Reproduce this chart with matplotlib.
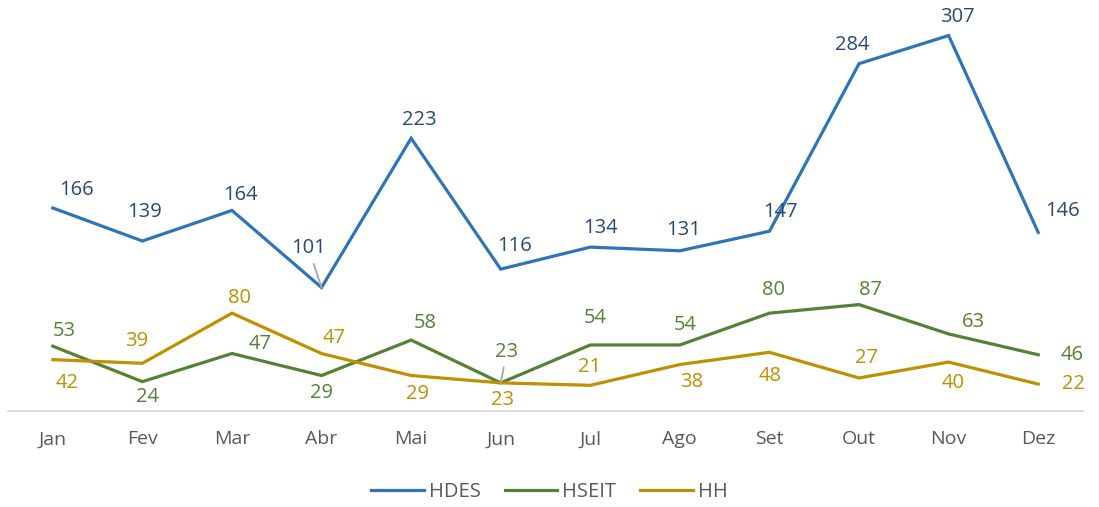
import matplotlib
matplotlib.use("Agg")
import matplotlib.pyplot as plt

months = ["Jan", "Fev", "Mar", "Abr", "Mai", "Jun", "Jul", "Ago", "Set", "Out", "Nov", "Dez"]
hdes = [166, 139, 164, 101, 223, 116, 134, 131, 147, 284, 307, 146]
hseit = [53, 24, 47, 29, 58, 23, 54, 54, 80, 87, 63, 46]
hh = [42, 39, 80, 47, 29, 23, 21, 38, 48, 27, 40, 22]

# label offsets in pixels (dx, dy), positive dy = up
off_hdes = [(24, 18), (2, 29), (9, 15), (-13, 39), (8, 18), (14, 23),
            (10, 19), (4, 21), (11, 19), (-7, 19), (9, 19), (24, 21)]
off_hseit = [(12, 15), (5, -15), (28, 10), (0, -17), (14, 17), (6, 31),
             (5, 27), (5, 20), (4, 23), (11, 15), (25, 12), (34, 0)]
off_hh = [(14, -23), (-6, 22), (8, 15), (13, 16), (6, -18), (2, -17),
          (-1, 18), (12, -17), (1, -24), (7, 20), (5, -21), (35, 0)]
leaders = {("HDES", 3), ("HSEIT", 5)}

plt.rcParams['font.family'] = ['Open Sans', 'DejaVu Sans']

fig = plt.figure(figsize=(10.99, 5.07), dpi=100)
ax = fig.add_axes([8/1099, 96/507, 1075/1099, 403.6/507])

x = list(range(len(months)))
series = [
    ("HDES", hdes, off_hdes, "#2E75B6", "#264B73"),
    ("HSEIT", hseit, off_hseit, "#548235", "#548235"),
    ("HH", hh, off_hh, "#BF9000", "#BF9000"),
]

for name, vals, offs, col, lcol in series:
    ax.plot(x, vals, color=col, lw=2.3, label=name, solid_joinstyle='miter')
for name, vals, offs, col, lcol in series:
    for i, v in enumerate(vals):
        kw = {}
        if (name, i) in leaders:
            kw['arrowprops'] = dict(arrowstyle='-', color='#A6A6A6', lw=1.3, shrinkB=0)
        ax.annotate(str(v), (i, v), xytext=offs[i], textcoords='offset pixels',
                    ha='center', va='center', fontsize=14.5, color=lcol, **kw)

ax.set_xlim(-0.5, 11.5)
ax.set_ylim(0, 330)
ax.set_xticks(x)
ax.set_xticklabels(months, fontsize=14, color='#595959')
ax.tick_params(axis='x', length=0, pad=14)
ax.set_yticks([])
for s in ['top', 'right', 'left']:
    ax.spines[s].set_visible(False)
ax.spines['bottom'].set_color('#D9D9D9')
ax.spines['bottom'].set_linewidth(1.3)

leg = fig.legend(loc='center', bbox_to_anchor=(0.5, 1 - 492/507), ncol=3, frameon=False,
                 fontsize=14.5, handlelength=2.6, columnspacing=1.2, handletextpad=0.25)
for t in leg.get_texts():
    t.set_color('#595959')

fig.savefig("out.png", dpi=100)
